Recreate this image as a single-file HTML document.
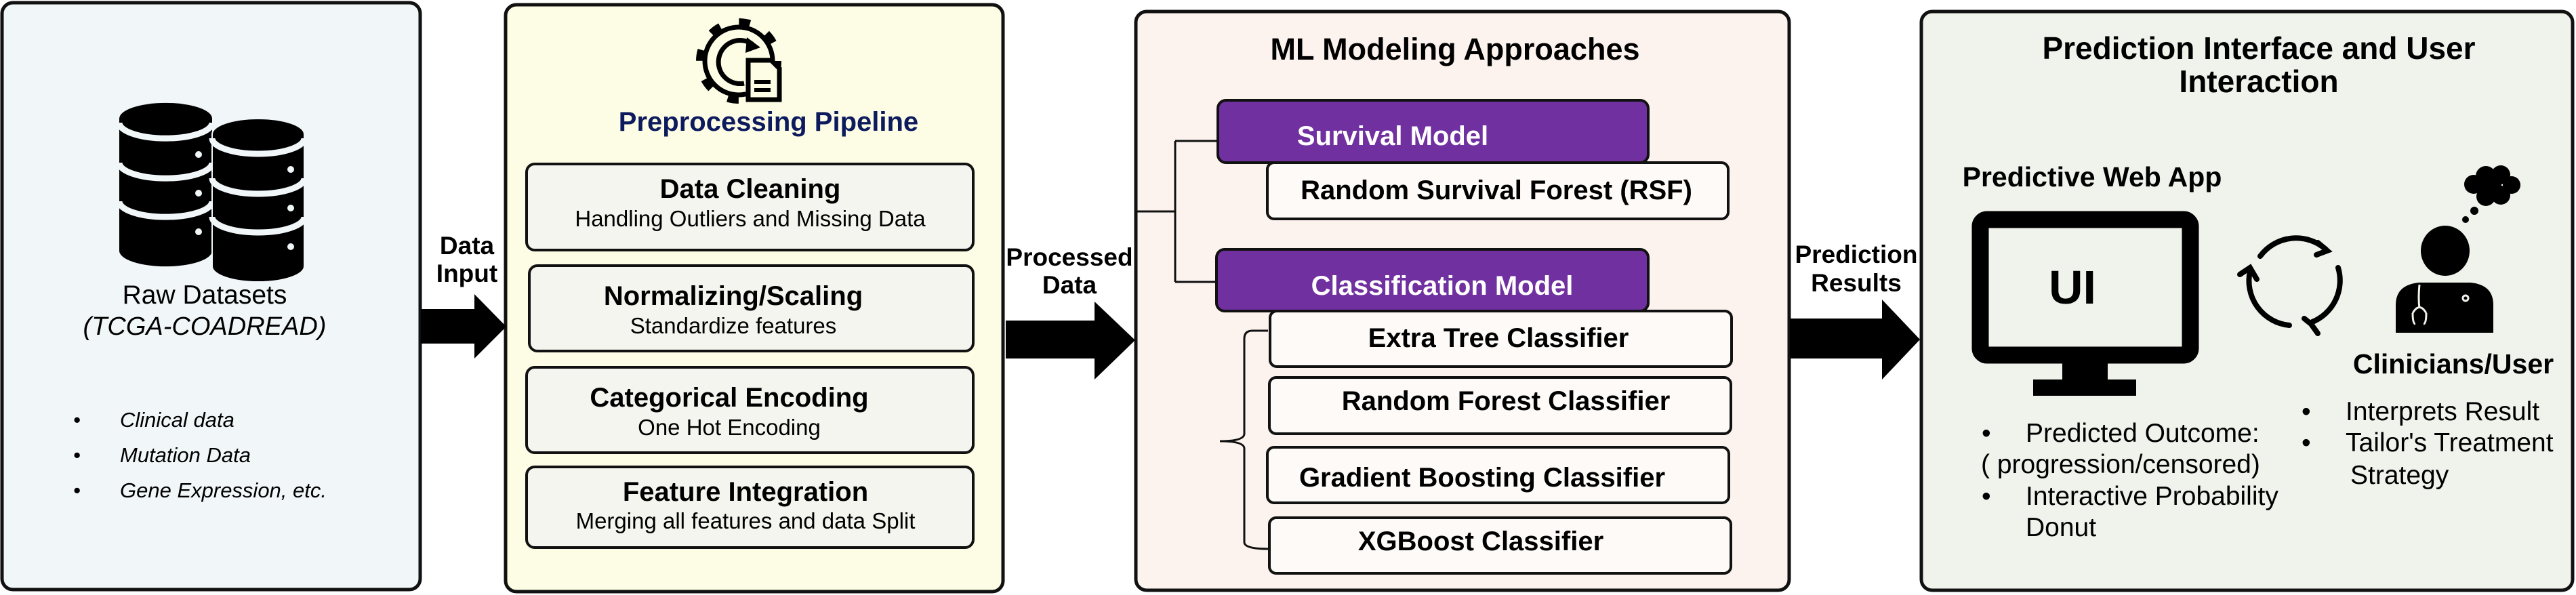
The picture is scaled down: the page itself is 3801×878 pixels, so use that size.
<!DOCTYPE html>
<html><head><meta charset="utf-8"><style>
html,body{margin:0;padding:0;background:#fff;}
svg{display:block;}
text{font-family:"Liberation Sans",sans-serif;}
</style></head><body>
<svg width="3801" height="878" viewBox="0 0 3801 878" xmlns="http://www.w3.org/2000/svg">
<rect x="3" y="4" width="617" height="866" rx="16" fill="#f1f6f8" stroke="#111" stroke-width="5"/>
<rect x="746" y="7" width="734" height="866" rx="16" fill="#fdfde6" stroke="#111" stroke-width="5"/>
<rect x="1676" y="17" width="964" height="854" rx="16" fill="#fcf2ee" stroke="#111" stroke-width="5"/>
<rect x="2835" y="17" width="961" height="854" rx="16" fill="#f0f2ec" stroke="#111" stroke-width="5"/>

<g>
 <path d="M176,175 A68,23 0 0 1 313,175 L313,370 A68,23 0 0 1 176,370 Z" fill="#000"/>
 <path d="M176,181 A68,23 0 0 0 313,181" fill="none" stroke="#f1f6f8" stroke-width="9"/>
 <path d="M176,240 A68,23 0 0 0 313,240" fill="none" stroke="#f1f6f8" stroke-width="9"/>
 <path d="M176,297 A68,23 0 0 0 313,297" fill="none" stroke="#f1f6f8" stroke-width="9"/>
 <circle cx="293" cy="228" r="5" fill="#f1f6f8"/><circle cx="293" cy="285" r="5" fill="#f1f6f8"/><circle cx="293" cy="342" r="5" fill="#f1f6f8"/>
 <path d="M313,198 A68,23 0 0 1 449,198 L449,393 A68,23 0 0 1 313,393 Z" fill="#000" stroke="#f1f6f8" stroke-width="2"/>
 <path d="M313,204 A68,23 0 0 0 449,204" fill="none" stroke="#f1f6f8" stroke-width="9"/>
 <path d="M313,263 A68,23 0 0 0 449,263" fill="none" stroke="#f1f6f8" stroke-width="9"/>
 <path d="M313,320 A68,23 0 0 0 449,320" fill="none" stroke="#f1f6f8" stroke-width="9"/>
 <circle cx="429" cy="250" r="5" fill="#f1f6f8"/><circle cx="429" cy="307" r="5" fill="#f1f6f8"/><circle cx="429" cy="364" r="5" fill="#f1f6f8"/>
</g>
<text x="302" y="448" font-size="39" text-anchor="middle">Raw Datasets</text>
<text x="302" y="494" font-size="38" font-style="italic" text-anchor="middle">(TCGA-COADREAD)</text>
<g font-size="31" font-style="italic">
 <text x="108" y="630">•</text><text x="177" y="630">Clinical data</text>
 <text x="108" y="682">•</text><text x="177" y="682">Mutation Data</text>
 <text x="108" y="734">•</text><text x="177" y="734">Gene Expression, etc.</text>
</g>

<polygon points="621,456 700,456 700,434 747,482 700,529 700,507 621,507" fill="#000"/>
<text x="689" y="375" font-size="37" font-weight="bold" text-anchor="middle">Data</text>
<text x="689" y="416" font-size="37" font-weight="bold" text-anchor="middle">Input</text>

<g>
 <circle cx="1090" cy="90" r="56" fill="none" stroke="#000" stroke-width="14" stroke-dasharray="16 28"/>
 <circle cx="1090" cy="90" r="50" fill="#fdfde6" stroke="#000" stroke-width="7"/>
 <path d="M1110,65 A32,32 0 1 0 1098,123" fill="none" stroke="#000" stroke-width="7"/>
 <polygon points="1102,55 1122,70 1100,78" fill="#000"/>
 <path d="M1104,89 L1138,89 L1150,101 L1150,147 L1104,147 Z" fill="#fdfde6" stroke="#000" stroke-width="7"/>
 <rect x="1113" y="118" width="24" height="6" fill="#000"/><rect x="1113" y="130" width="24" height="6" fill="#000"/>
</g>
<text x="1134" y="193" font-size="40" font-weight="bold" fill="#0d1b5e" text-anchor="middle">Preprocessing Pipeline</text>

<g fill="#f5f5ef" stroke="#111" stroke-width="4">
 <rect x="777" y="242" width="659" height="127" rx="12"/>
 <rect x="781" y="392" width="655" height="126" rx="12"/>
 <rect x="777" y="542" width="659" height="126" rx="12"/>
 <rect x="777" y="689" width="659" height="119" rx="12"/>
</g>
<g text-anchor="middle">
 <text x="1107" y="292" font-size="40" font-weight="bold">Data Cleaning</text>
 <text x="1107" y="334" font-size="33">Handling Outliers and Missing Data</text>
 <text x="1082" y="450" font-size="40" font-weight="bold">Normalizing/Scaling</text>
 <text x="1082" y="492" font-size="33">Standardize features</text>
 <text x="1076" y="600" font-size="40" font-weight="bold">Categorical Encoding</text>
 <text x="1076" y="642" font-size="33">One Hot Encoding</text>
 <text x="1100" y="739" font-size="40" font-weight="bold">Feature Integration</text>
 <text x="1100" y="780" font-size="33">Merging all features and data Split</text>
</g>

<polygon points="1484,473 1615,473 1615,445 1675,502 1615,560 1615,529 1484,529" fill="#000"/>
<text x="1578" y="392" font-size="37" font-weight="bold" text-anchor="middle">Processed</text>
<text x="1578" y="433" font-size="37" font-weight="bold" text-anchor="middle">Data</text>

<text x="2147" y="88" font-size="45" font-weight="bold" text-anchor="middle">ML Modeling Approaches</text>
<g fill="none" stroke="#111" stroke-width="3">
 <path d="M1677,312 L1734,312 M1734,208 L1734,416 M1734,208 L1797,208 M1734,416 L1795,416"/>
 <path d="M1871,488 L1848,488 Q1836,488 1836,500 L1836,640 Q1836,651 1800,651 Q1836,651 1836,662 L1836,800 Q1836,810 1871,810"/>
</g>
<g stroke="#111" stroke-width="4">
 <rect x="1797" y="148" width="635" height="92" rx="12" fill="#7030a0"/>
 <rect x="1795" y="368" width="637" height="91" rx="12" fill="#7030a0"/>
 <rect x="1870" y="240" width="680" height="83" rx="10" fill="#fdfaf8"/>
 <rect x="1874" y="459" width="681" height="82" rx="10" fill="#fdfaf8"/>
 <rect x="1873" y="557" width="681" height="83" rx="10" fill="#fdfaf8"/>
 <rect x="1870" y="660" width="681" height="82" rx="10" fill="#fdfaf8"/>
 <rect x="1873" y="764" width="681" height="82" rx="10" fill="#fdfaf8"/>
</g>
<g font-size="40" font-weight="bold" text-anchor="middle">
 <text x="2055" y="214" fill="#fff">Survival Model</text>
 <text x="2128" y="435" fill="#fff">Classification Model</text>
 <text x="2208" y="294">Random Survival Forest (RSF)</text>
 <text x="2211" y="512">Extra Tree Classifier</text>
 <text x="2222" y="605">Random Forest Classifier</text>
 <text x="2187" y="718">Gradient Boosting Classifier</text>
 <text x="2185" y="812">XGBoost Classifier</text>
</g>

<polygon points="2641,470 2777,470 2777,442 2833,501 2777,560 2777,529 2641,529" fill="#000"/>
<text x="2739" y="388" font-size="37" font-weight="bold" text-anchor="middle">Prediction</text>
<text x="2739" y="430" font-size="37" font-weight="bold" text-anchor="middle">Results</text>

<text x="3333" y="87" font-size="46" font-weight="bold" text-anchor="middle">Prediction Interface and User</text>
<text x="3333" y="136" font-size="46" font-weight="bold" text-anchor="middle">Interaction</text>
<text x="3087" y="275" font-size="41" font-weight="bold" text-anchor="middle">Predictive Web App</text>
<rect x="2922" y="324" width="310" height="200" rx="10" fill="none" stroke="#000" stroke-width="25"/>
<rect x="3043" y="535" width="67" height="26" fill="#000"/>
<rect x="3000" y="560" width="152" height="24" fill="#000"/>
<text x="3058" y="448" font-size="70" font-weight="bold" text-anchor="middle">UI</text>

<g fill="none" stroke="#000" stroke-width="8" stroke-linecap="round">
 <path d="M3335,378 A66,66 0 0 1 3432,368"/>
 <path d="M3450,395 A66,66 0 0 1 3412,475"/>
 <path d="M3378,480 A66,66 0 0 1 3320,400"/>
 <path d="M3420,358 L3434,370 L3418,376"/>
 <path d="M3400,470 L3410,478 L3420,492"/>
 <path d="M3305,405 L3320,395 L3330,412"/>
</g>
<ellipse cx="3608" cy="370" rx="36" ry="37" fill="#000"/>
<path d="M3535,491 L3535,450 Q3535,420 3570,417 L3645,417 Q3679,420 3679,450 L3679,491 Z" fill="#000"/>
<path d="M3570,420 Q3568,440 3570,455 M3560,462 Q3560,478 3564,478 M3580,462 Q3580,478 3576,478 M3560,462 Q3570,445 3580,462" fill="none" stroke="#f0f2ec" stroke-width="3"/>
<circle cx="3638" cy="440" r="4" fill="none" stroke="#f0f2ec" stroke-width="3"/>
<g fill="#000">
 <circle cx="3650" cy="272" r="14"/><circle cx="3668" cy="260" r="15"/><circle cx="3690" cy="258" r="14"/><circle cx="3706" cy="273" r="13"/><circle cx="3690" cy="288" r="14"/><circle cx="3668" cy="290" r="14"/><circle cx="3675" cy="274" r="16"/>
 <circle cx="3651" cy="311" r="6"/><circle cx="3638" cy="324" r="5"/>
</g>
<text x="3620" y="551" font-size="41" font-weight="bold" text-anchor="middle">Clinicians/User</text>
<g font-size="39">
 <text x="3396" y="620">•</text><text x="3461" y="620">Interprets Result</text>
 <text x="3396" y="666">•</text><text x="3461" y="666">Tailor's Treatment</text>
 <text x="3468" y="714">Strategy</text>
 <text x="2924" y="652">•</text><text x="2989" y="652">Predicted Outcome:</text>
 <text x="2923" y="698">( progression/censored)</text>
 <text x="2924" y="745">•</text><text x="2989" y="745">Interactive Probability</text>
 <text x="2989" y="791">Donut</text>
</g>
</svg>
</body></html>
